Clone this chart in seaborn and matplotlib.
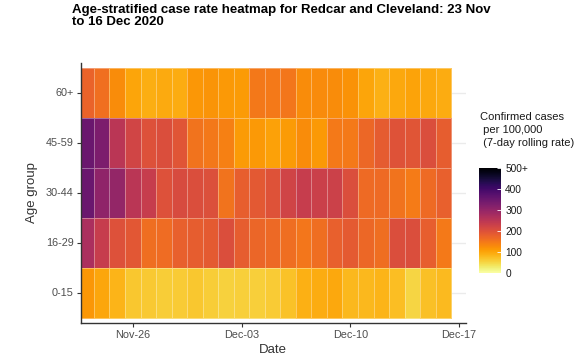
import pandas as pd
import matplotlib.pyplot as plt
import seaborn as sns

# --- datos ---
fechas = pd.date_range("2020-11-23", "2020-12-16", freq="D")
grupos = ["60+", "45-59", "30-44", "16-29", "0-15"]

tasa_60 = [175, 160, 125, 100, 90, 95, 92, 115, 118, 112, 110, 150,
           148, 152, 125, 127, 125, 120, 100, 88, 97, 102, 97, 92]
tasa_45_59 = [350, 330, 250, 220, 200, 205, 195, 155, 150, 140, 110, 112,
              105, 110, 125, 112, 148, 148, 168, 185, 198, 195, 205, 182]
tasa_30_44 = [350, 305, 300, 250, 235, 200, 210, 205, 203, 155, 180, 188,
              198, 222, 235, 230, 228, 205, 165, 166, 155, 145, 166, 178]
tasa_16_29 = [270, 235, 200, 190, 162, 163, 178, 183, 186, 205, 182, 170,
              167, 162, 152, 162, 178, 186, 168, 162, 205, 205, 180, 148]
tasa_0_15 = [115, 98, 85, 65, 63, 60, 62, 65, 60, 55, 57, 58,
             62, 72, 88, 92, 96, 82, 82, 85, 75, 52, 73, 80]

ticks_fechas = pd.to_datetime(["2020-11-26", "2020-12-03", "2020-12-10", "2020-12-17"])
ticks_etiquetas = ["Nov-26", "Dec-03", "Dec-10", "Dec-17"]
cbar_ticks = [0, 100, 200, 300, 400, 500]
cbar_etiquetas = ["0", "100", "200", "300", "400", "500+"]

tabla = pd.DataFrame([tasa_60, tasa_45_59, tasa_30_44, tasa_16_29, tasa_0_15],
                     index=grupos, columns=fechas)

# --- figura ---
plt.rcParams['font.family'] = ['Liberation Sans', 'DejaVu Sans']
fig = plt.figure(figsize=(5.85, 3.62), dpi=100)
ax = fig.add_axes([80.7 / 585, 39 / 362, 385 / 585, 260 / 362])
cax = fig.add_axes([479 / 585, 89 / 362, 22 / 585, 105 / 362])

sns.heatmap(tabla, ax=ax, cbar_ax=cax, cmap="inferno_r", vmin=0, vmax=500,
            linewidths=0.6, linecolor=(1, 1, 1, 0.35))

ax.set_xlim(0.15, 24.93)
ax.set_ylim(5.1, -0.1)
ax.set_axisbelow(True)
ax.grid(axis='y', color='#ebebeb', lw=1)
for lado in ['left', 'bottom']:
    ax.spines[lado].set_visible(True)
    ax.spines[lado].set_color('#333333')
    ax.spines[lado].set_linewidth(1)

pos = [(d - fechas[0]).days + 0.5 for d in ticks_fechas]
ax.set_xticks(pos)
ax.set_xticklabels(ticks_etiquetas, rotation=0, fontsize=7.8, color='#4d4d4d')
ax.set_yticks([i + 0.5 for i in range(len(grupos))])
ax.set_yticklabels(grupos, rotation=0, fontsize=7.8, color='#4d4d4d')
ax.tick_params(length=3, width=0.8, color='#333333', pad=2)
ax.set_xlabel("Date", fontsize=9.5, color='#333333', labelpad=3)
ax.set_ylabel("Age group", fontsize=9.5, color='#333333', labelpad=6)

cb = ax.collections[0].colorbar
cb.outline.set_visible(False)
cb.set_ticks(cbar_ticks)
cb.set_ticklabels(cbar_etiquetas)
cax.tick_params(length=3, width=0.6, color='white', direction='in', labelsize=7.3,
                labelcolor='#1a1a1a', pad=3)

fig.text(480 / 585, 1 - 112 / 362, "Confirmed cases\n per 100,000\n (7-day rolling rate)",
         fontsize=8, va='top', ha='left', color='#1a1a1a', linespacing=1.35)

fig.text(72 / 585, 1 - 4 / 362,
         "Age-stratified case rate heatmap for Redcar and Cleveland: 23 Nov\nto 16 Dec 2020",
         fontsize=9.5, fontweight='bold', va='top', ha='left', linespacing=0.95)

plt.savefig("out.png", dpi=100)
